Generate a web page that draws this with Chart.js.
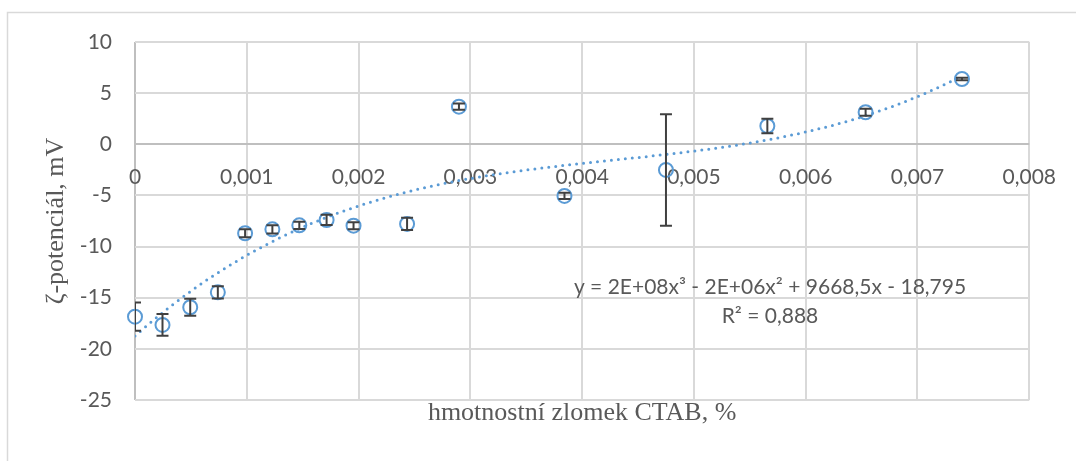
<!DOCTYPE html>
<html>
<head>
<meta charset="utf-8">
<script src="https://cdn.jsdelivr.net/npm/chart.js@4.4.0/dist/chart.umd.min.js"></script>
<style>
  html, body { margin: 0; padding: 0; background: #ffffff; }
  #wrap { position: relative; width: 1076px; height: 461px; }
  canvas { display: block; }
</style>
</head>
<body>
<div id="wrap"><canvas id="chart" width="1076" height="461"></canvas></div>
<script>
// ---- data ----
const xValues = [0, 0.000246, 0.000494, 0.000741, 0.000985, 0.001229, 0.00147, 0.001714, 0.001955, 0.002434, 0.002898, 0.003842, 0.00475, 0.005657, 0.006536, 0.007398];
const zetaValues = [-16.85, -17.66, -15.93, -14.47, -8.7, -8.31, -7.92, -7.4, -7.96, -7.79, 3.68, -5.05, -2.51, 1.79, 3.13, 6.38];
const zetaErrors = [1.39, 1.07, 0.83, 0.6, 0.4, 0.4, 0.35, 0.5, 0.35, 0.6, 0.3, 0.3, 5.45, 0.7, 0.35, 0.12];
const xTicks = [0, 0.001, 0.002, 0.003, 0.004, 0.005, 0.006, 0.007, 0.008];
const yTicks = [-25, -20, -15, -10, -5, 0, 5, 10];
const xTitle = 'hmotnostní zlomek CTAB, %';
const yTitle = 'ζ-potenciál, mV';
const equationLines = ['y = 2E+08x³ - 2E+06x² + 9668,5x - 18,795', 'R² = 0,888'];

// ---- polynomial (order 3) least-squares trendline, as the spreadsheet computes it ----
function cubicFit(xs, ys) {
  const s = 1000; // scale x for conditioning
  const n = 4;
  const A = Array.from({length: n}, () => new Array(n + 1).fill(0));
  xs.forEach((xv, k) => {
    const t = xv * s;
    const pw = [1, t, t * t, t * t * t];
    for (let i = 0; i < n; i++) {
      for (let j = 0; j < n; j++) A[i][j] += pw[i] * pw[j];
      A[i][n] += pw[i] * ys[k];
    }
  });
  for (let c = 0; c < n; c++) {
    let p = c;
    for (let r = c + 1; r < n; r++) if (Math.abs(A[r][c]) > Math.abs(A[p][c])) p = r;
    [A[c], A[p]] = [A[p], A[c]];
    for (let r = 0; r < n; r++) {
      if (r === c) continue;
      const f = A[r][c] / A[c][c];
      for (let j = c; j <= n; j++) A[r][j] -= f * A[c][j];
    }
  }
  const b = A.map((row, i) => row[n] / row[i]);
  return xv => { const t = xv * s; return b[0] + b[1] * t + b[2] * t * t + b[3] * t * t * t; };
}
const trend = cubicFit(xValues, zetaValues);
const xMin = Math.min(...xValues), xMax = Math.max(...xValues);
const trendPoints = [];
for (let i = 0; i <= 200; i++) {
  const xv = xMin + (xMax - xMin) * i / 200;
  trendPoints.push({x: xv, y: trend(xv)});
}

const BLUE = '#5B9BD5';
const TEXT = '#595959';
const GRID = '#D9D9D9';
const AXIS = '#BFBFBF';
const tickFont = {family: 'Lato', size: 21};
const titleFont = {family: '"Liberation Serif"', size: 26};

const frameAndLabels = {
  id: 'frameAndLabels',
  beforeDraw(chart) {
    const ctx = chart.ctx;
    ctx.save();
    ctx.strokeStyle = GRID;
    ctx.lineWidth = 1.5;
    ctx.strokeRect(7.5, 12.5, 1200, 600);
    ctx.restore();
  },
  afterDatasetsDraw(chart) {
    const {ctx, chartArea, scales: {x, y}} = chart;
    ctx.save();
    ctx.beginPath();
    ctx.rect(chartArea.left, chartArea.top, chartArea.right - chartArea.left, chartArea.bottom - chartArea.top);
    ctx.clip();
    ctx.strokeStyle = '#404040';
    ctx.lineWidth = 2;
    const cap = 6;
    xValues.forEach((xv, i) => {
      const px = x.getPixelForValue(xv);
      const top = y.getPixelForValue(zetaValues[i] + zetaErrors[i]);
      const bot = y.getPixelForValue(zetaValues[i] - zetaErrors[i]);
      ctx.beginPath();
      ctx.moveTo(px, top); ctx.lineTo(px, bot);
      ctx.moveTo(px - cap, top); ctx.lineTo(px + cap, top);
      ctx.moveTo(px - cap, bot); ctx.lineTo(px + cap, bot);
      ctx.stroke();
    });
    ctx.restore();
  },
  afterDraw(chart) {
    const {ctx, chartArea} = chart;
    ctx.save();
    ctx.fillStyle = TEXT;
    ctx.font = tickFont.size + 'px ' + tickFont.family;
    ctx.textAlign = 'center';
    ctx.textBaseline = 'middle';
    const cx = chartArea.left + 635;
    ctx.fillText(equationLines[0], cx, chartArea.top + 245);
    ctx.fillText(equationLines[1], cx, chartArea.top + 274);
    ctx.restore();
  }
};

new Chart(document.getElementById('chart'), {
  type: 'scatter',
  data: {
    datasets: [
      {
        label: 'trend',
        type: 'line',
        data: trendPoints,
        xAxisID: 'x', yAxisID: 'y',
        borderColor: BLUE,
        borderWidth: 3,
        borderDash: [0, 7],
        borderCapStyle: 'round',
        pointRadius: 0,
        fill: false,
        tension: 0,
        order: 2
      },
      {
        label: 'zeta',
        data: xValues.map((xv, i) => ({x: xv, y: zetaValues[i]})),
        xAxisID: 'x', yAxisID: 'y',
        showLine: false,
        pointStyle: 'circle',
        pointRadius: 7,
        pointBorderWidth: 2,
        pointBorderColor: BLUE,
        pointBackgroundColor: 'rgba(0,0,0,0)',
        clip: false,
        order: 1
      }
    ]
  },
  options: {
    responsive: false,
    animation: false,
    devicePixelRatio: 1,
    layout: {padding: {left: 8, top: 42, right: 46, bottom: 0}},
    plugins: {legend: {display: false}, tooltip: {enabled: false}},
    scales: {
      x: {
        type: 'linear',
        position: 'bottom',
        min: 0, max: 0.008,
        afterBuildTicks: s => { s.ticks = xTicks.map(v => ({value: v})); },
        afterFit: s => { s.height = 61; },
        ticks: {display: false},
        grid: {
          drawTicks: false,
          lineWidth: 2,
          color: c => (c.tick && c.tick.value === 0 ? AXIS : GRID)
        },
        border: {display: false},
        title: {display: true, text: xTitle, color: TEXT, font: titleFont, padding: {top: 0, bottom: 32}}
      },
      x2: {
        type: 'linear',
        axis: 'x',
        position: {y: 0},
        min: 0, max: 0.008,
        afterBuildTicks: s => { s.ticks = xTicks.map(v => ({value: v})); },
        ticks: {
          color: TEXT, font: tickFont, padding: 20, maxRotation: 0,
          callback: v => String(v).replace('.', ',')
        },
        grid: {display: false, drawTicks: false},
        border: {display: false}
      },
      y: {
        type: 'linear',
        position: 'left',
        min: -25, max: 10,
        afterBuildTicks: s => { s.ticks = yTicks.map(v => ({value: v})); },
        afterFit: s => { s.width = 127; },
        ticks: {color: TEXT, font: tickFont, padding: 23},
        grid: {
          drawTicks: false,
          lineWidth: 2,
          color: c => (c.tick && c.tick.value === 0 ? AXIS : GRID)
        },
        border: {display: false},
        title: {display: true, text: yTitle, color: TEXT, font: titleFont, padding: {top: 33, bottom: 0}}
      }
    }
  },
  plugins: [frameAndLabels]
});
</script>
</body>
</html>
